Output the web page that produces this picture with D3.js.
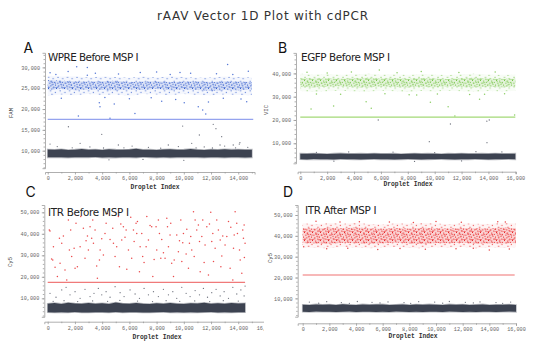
<!DOCTYPE html>
<html>
<head>
<meta charset="utf-8">
<script src="https://cdn.jsdelivr.net/npm/d3@7/dist/d3.min.js"></script>
<style>
  body { margin: 0; background: #fff; }
  .tick text { font-family: "Liberation Mono", monospace; font-size: 5.2px; fill: #666; }
  .domain, .tick line { stroke: #9a9a9a; stroke-width: 0.8; }
</style>
</head>
<body>
<svg id="chart" width="542" height="351"></svg>
<script>
// ---------- data ----------
const bins1k15 = [0,1000,2000,3000,4000,5000,6000,7000,8000,9000,10000,11000,12000,13000,14000,15000];
const bins1k16 = [0,1000,2000,3000,4000,5000,6000,7000,8000,9000,10000,11000,12000,13000,14000,15000,16000];
const bins500_15 = [0,500,1000,1500,2000,2500,3000,3500,4000,4500,5000,5500,6000,6500,7000,7500,8000,8500,9000,9500,10000,10500,11000,11500,12000,12500,13000,13500,14000,14500,15000];
const bins500_145 = [0,500,1000,1500,2000,2500,3000,3500,4000,4500,5000,5500,6000,6500,7000,7500,8000,8500,9000,9500,10000,10500,11000,11500,12000,12500,13000,13500,14000,14500];
const bins500_16 = [0,500,1000,1500,2000,2500,3000,3500,4000,4500,5000,5500,6000,6500,7000,7500,8000,8500,9000,9500,10000,10500,11000,11500,12000,12500,13000,13500,14000,14500,15000,15500,16000];

// A: WPRE, FAM
const wpreThreshold = 17500;
const wpreNegHi = [10300,10200,10350,10150,10250,10400,10200,10300,10150,10350,10250,10200,10300,10450,10200,10250,10150,10300,10350,10200,10250,10400,10250,10150,10300,10200,10350,10250,10300,10200,10250];
const wpreNegLo = [8400,8450,8400,8350,8450,8400,8400,8500,8350,8400,8350,8450,8400,8350,8500,8400,8350,8450,8350,8400,8450,8400,8400,8350,8450,8400,8350,8450,8400,8350,8400];
const wprePosHi = [28000,27800,27900,27600,27800,27700,27500,27800,27600,27900,27700,27500,27600,27800,27700,27600];
const wprePosLo = [23200,23500,23300,23600,23400,23500,23200,23600,23500,23300,23600,23400,23300,23500,23400,23300];
const wpreCoreHi = [26900,26800,26700,26600,26700,26800,26500,26600,26700,26500,26600,26700,26500,26700,26600,26500];
const wpreCoreLo = [24600,24800,24500,24700,24600,24500,24700,24600,24800,24500,24700,24600,24400,24600,24500,24700];
const wprePosDots = [[170,28700],[2130,30140],[2910,30000],[2910,28100],[8000,28900],[9720,28800],[13220,30700],[14740,29100],
  [3840,20550],[3790,21500],[4575,17770],[2250,18300],[6410,18950],[8375,21900],[10030,21500],[11385,19750],[11610,18800],
  [11060,20550],[11810,21700],[14620,21750],[4890,21200],[600,28300],[1500,29000],[3500,28600],[5200,28400],[6800,28800],
  [9000,28300],[10500,28600],[12400,28500],[1000,22600],[4200,22800],[6000,22500],[7600,22700],[9400,22300],[12900,22600],
  [14200,22400],[13600,28300]];
const wpreNegDots = [[1520,15750],[3970,13930],[9915,15920],[12160,16330],[12360,15280],[11140,13770],[12780,13360],
  [14075,11600],[170,11600],[2380,11780],[5190,11370],[8860,11370],[10580,11780],[12660,11370],[13630,11370],[14120,11920],
  [700,11000],[3100,10900],[6200,11100],[7400,10800],[9600,11000],[11500,10900],[13000,11100],[14700,10800],[4500,7800],
  [10000,7700],[7000,7900],[1800,10700],[4100,10650],[5600,10700],[8300,10600],[10900,10700],[12100,10650],[13800,10700]];

// B: EGFP, VIC
const egfpThreshold = 21200;
const egfpNegHi = [5550,5450,5600,5500,5400,5550,5650,5500,5450,5550,5500,5600,5450,5500,5550,5400,5500,5600,5450,5550,5500,5400,5550,5500,5600,5450,5500,5550,5450,5600,5500,5450,5550];
const egfpNegLo = [3150,3050,3200,3100,3150,3050,3200,3150,3100,3050,3150,3200,3100,3150,3050,3100,3200,3150,3050,3100,3150,3200,3100,3050,3150,3100,3200,3150,3050,3100,3150,3200,3100];
const egfpPosHi = [39800,39500,39700,39400,39600,39800,39500,39600,39400,39700,39500,39300,39600,39800,39500,39400,39500];
const egfpPosLo = [32400,32000,32300,32600,32200,32100,32500,32300,32000,32400,32200,32600,32300,32100,32400,32200,32500];
const egfpCoreHi = [38000,37800,37900,37700,37900,38100,37800,37900,37700,38000,37800,37600,37900,38100,37800,37700,37800];
const egfpCoreLo = [34200,34000,34300,34500,34100,34000,34400,34200,34000,34300,34100,34500,34200,34000,34300,34100,34400];
const egfpPosDots = [[800,24700],[2480,26000],[5280,25000],[4900,27850],[9680,27600],[8660,30700],[11000,25700],[11500,21700],
  [13340,28900],[15950,22150],[5880,41460],[13710,31000],[500,40500],[2000,40200],[3800,40600],[7200,40300],[9000,40800],
  [11800,40400],[14500,40600],[1200,31200],[3000,31000],[6300,31300],[8100,30800],[10200,31200],[12600,30900],[15200,31300]];
const egfpNegDots = [[5800,20000],[11170,18280],[14060,20000],[13880,19500],[9600,10690],[13890,10260],[13070,6400],
  [1200,6100],[3600,6300],[6900,6200],[10000,6000],[15000,6300],[2500,2300],[8500,2200],[12000,2400]];

// C: ITR before, Cy5
const itrBeforeThreshold = 17400;
const itrBeforeNegHi = [7500,7800,7400,7900,7600,7500,7800,7500,7700,7400,8000,7600,7500,7800,7500,7300,7700,7500,7800,7500,7400,7700,7600,7900,7500,7700,7500,7800,7600,7700];
const itrBeforeNegLo = [3500,3400,3550,3450,3600,3450,3400,3550,3500,3450,3600,3400,3500,3550,3450,3400,3500,3600,3450,3550,3400,3500,3450,3550,3600,3450,3500,3400,3550,3500];
const itrBeforePosDots = [[120,41800],[170,41300],[290,28300],[370,27800],[540,24400],[860,37900],[1030,35600],[1150,39000],
  [1590,32500],[1690,41800],[1940,33300],[2010,24000],[2180,24700],[2380,34000],[2430,48000],[2820,36800],[2920,39000],
  [3110,43300],[3310,46400],[3480,41800],[3600,25000],[3800,27800],[3850,32500],[3970,37700],[4290,44900],[4390,49500],
  [4580,37400],[4830,35600],[5190,48000],[5270,24700],[5370,44600],[5560,43300],[5680,38400],[5810,23500],[5930,32500],
  [6100,47700],[6300,41800],[6490,44900],[6590,45700],[6790,34000],[6980,29400],[7080,26600],[7280,48000],[7520,43900],
  [7640,43300],[7820,28100],[8010,32500],[8210,40200],[8380,37400],[8500,31200],[8620,28600],[8750,47200],[8800,43300],
  [8990,39500],[9110,26300],[9290,27800],[9480,39500],[9680,36800],[9780,46400],[9920,35900],[10170,30600],[10220,42100],
  [10410,35600],[10580,32500],[10710,50300],[10830,46400],[10950,41800],[11150,36400],[11320,38700],[11490,26600],
  [11690,43300],[11880,44600],[11980,50000],[12130,40200],[12300,33300],[12420,46400],[12670,37100],[12860,39000],
  [13030,34800],[13280,45700],[13450,43000],[13650,33300],[13770,50300],[13940,40200],[14140,27800],[14330,41800],
  [14430,44100],[14500,35600],[420,34000],[710,20100],[1270,23200],[1400,18500],[1760,29400],[2620,42600],[2990,32500],
  [3360,35600],[3650,19300],[4090,30200],[4780,42600],[4950,29400],[5440,37100],[6170,28600],[6540,40200],[6740,22400],
  [7400,37100],[7720,20100],[8130,46400],[8870,34000],[9240,20100],[9600,31700],[9970,40200],[10340,24000],[10760,29400],
  [11070,44100],[11200,22400],[11560,34800],[11810,20900],[12180,27100],[12540,41800],[12720,24700],[13160,38700],
  [13400,24000],[13600,18500],[13890,44900],[14090,32500],[14260,21600],[14450,29000],[910,26300],[1520,46400],[2080,44900],
  [2740,28600],[3230,37900],[4210,40200],[5070,34000],[5760,41800],[6350,36400],[6910,40200],[7230,34000],[7960,43300],
  [8310,28600],[9040,44900],[9850,27100],[10510,38700],[11390,46400],[12050,36400],[12790,29700],[13700,39500],[14380,37900]];
const itrBeforeNegDots = [[170,12300],[610,10500],[1030,13900],[1350,15100],[1640,11600],[2010,13100],[2380,10000],
  [2740,14200],[3110,10800],[3400,12300],[3720,14600],[3970,11600],[4290,13100],[4580,10500],[4950,15400],[5320,12600],
  [5610,10800],[6050,13900],[6420,12000],[6740,10000],[7080,14600],[7400,11600],[7770,13100],[8130,10800],[8500,14200],
  [8870,11600],[9190,13100],[9480,10000],[9850,15100],[10170,12300],[10460,10800],[10830,13600],[11150,11600],[11440,14600],
  [11740,10500],[12050,12600],[12370,14200],[12670,11100],[12960,13100],[13280,10000],[13600,15100],[13890,12000],
  [14190,13900],[14430,11100],[14500,15700],[400,8600],[1200,8900],[2200,8500],[3300,8800],[4400,8600],[5300,9000],
  [6600,8700],[7700,8500],[8700,8900],[9700,8600],[10800,8800],[11900,8500],[12900,8900],[14000,8700]];

// D: ITR after, Cy5
const itrAfterThreshold = 21200;
const itrAfterNegHi = [6900,6800,7100,6900,7000,6800,7200,6900,6800,7100,6900,7000,7100,6800,6950,7100,6800,7000,6900,7100,6950,6800,7100,6900,7000,6800,6950,7100,6850,6950,6900,7050,6850];
const itrAfterNegLo = [3600,3500,3650,3550,3600,3450,3550,3650,3500,3600,3550,3450,3600,3500,3650,3550,3500,3600,3450,3550,3600,3500,3650,3550,3500,3600,3450,3550,3600,3500,3550,3650,3550];
const itrAfterPosHi = [46000,45600,46200,45800,46300,45700,45500,46000,45800,46200,45900,45600,46100,45800,45700,46300,45900];
const itrAfterPosLo = [34500,34200,34000,34600,34300,34100,34400,34700,34200,34000,34500,34300,34600,34100,34400,34200,34500];
const itrAfterCoreHi = [43800,43500,43900,43600,44000,43700,43400,43800,43500,43900,43600,43500,43800,43700,43500,44000,43700];
const itrAfterCoreLo = [36600,36300,36200,36700,36400,36200,36500,36800,36300,36100,36600,36400,36700,36200,36500,36300,36600];
const itrAfterPosDots = [[75,34800],[3380,34000],[5630,33500],[14000,33200],[4250,46800],[14630,46800],[1000,47000],
  [2800,46600],[6500,46700],[8300,46400],[10000,46900],[11900,46500],[15200,46600],[1800,33800],[7300,33900],[9200,33600],
  [11500,33800],[12800,34000],[15500,33700]];
const itrAfterNegDots = [[500,8200],[1800,8400],[2900,8000],[4100,8500],[5200,8100],[6400,8300],[7600,8000],[8700,8400],
  [9900,8200],[11000,8500],[12200,8100],[13300,8300],[14500,8000],[15600,8200],[1200,7700],[3500,7600],[5800,7800],
  [8100,7600],[10500,7700],[12800,7800],[15000,7600]];

// tick labels
const xTicks14 = [0,2000,4000,6000,8000,10000,12000,14000];
const xTicks16 = [0,2000,4000,6000,8000,10000,12000,14000,16000];
const yTicksA = [10000,15000,20000,25000,30000];
const yTicksB = [10000,20000,30000,40000];
const yTicksCD = [10000,20000,30000,40000,50000];

// ---------- drawing ----------
const svg = d3.select("#chart");
const defs = svg.append("defs");
const negColor = "#3d4351";

// speckle fills for the droplet bands
function speckle(id, color, size, dots) {
  const p = defs.append("pattern")
    .attr("id", id)
    .attr("patternUnits", "userSpaceOnUse")
    .attr("width", size).attr("height", size);
  dots.forEach(d => p.append("rect")
    .attr("x", d[0]).attr("y", d[1])
    .attr("width", 1).attr("height", 1)
    .attr("fill", color));
}
const coreDots = [[0,0],[3.2,0.6],[5.8,1.9],[1.4,2.7],[4.5,3.8],[7,4.6],[2.3,5.4],[5.3,6.6],[0.4,7],[6.6,7.4],[3.6,1.9]];
const outerDots = [[0.5,0.8],[5.2,2.1],[2.6,4.9],[7.4,6.5],[4.1,8.3]];
[["blue", "#3a62cf"], ["green", "#78c64a"], ["red", "#e8292b"]].forEach(([k, c]) => {
  speckle("core-" + k, c, 8, coreDots);
  speckle("outer-" + k, c, 9.5, outerDots);
});

// title
svg.append("text")
  .attr("x", 157).attr("y", 19.5)
  .attr("font-family", "DejaVu Sans, sans-serif")
  .attr("font-size", "12px")
  .attr("textLength", 211).attr("lengthAdjust", "spacing")
  .attr("fill", "#333")
  .text("rAAV Vector 1D Plot with cdPCR");

function drawPanel(p) {
  const g = svg.append("g");
  if (p.clipRight) {
    defs.append("clipPath").attr("id", "clip-" + p.letter)
      .append("rect").attr("x", 0).attr("y", 0).attr("width", p.clipRight).attr("height", 351);
    g.attr("clip-path", `url(#clip-${p.letter})`);
  }

  const x = d3.scaleLinear().domain(p.xDomain).range(p.xRange);
  const y = d3.scaleLinear().domain(p.yDomain).range(p.yRange);

  // positive band (outer + core)
  if (p.posHi) {
    const outer = d3.area().x((d, i) => x(p.posBins[i])).y0((d, i) => y(p.posLo[i])).y1(d => y(d));
    const core = d3.area().x((d, i) => x(p.posBins[i])).y0((d, i) => y(p.coreLo[i])).y1(d => y(d));
    g.append("path").datum(p.posHi).attr("d", outer).attr("fill", p.color).attr("opacity", 0.05);
    g.append("path").datum(p.posHi).attr("d", outer).attr("fill", `url(#outer-${p.tone})`);
    g.append("path").datum(p.coreHi).attr("d", core).attr("fill", p.color).attr("opacity", 0.17);
    g.append("path").datum(p.coreHi).attr("d", core).attr("fill", `url(#core-${p.tone})`);
  }

  // negative cluster
  const neg = d3.area().x((d, i) => x(p.negBins[i])).y0((d, i) => y(p.negLo[i])).y1(d => y(d));
  g.append("path").datum(p.negHi).attr("d", neg)
    .attr("fill", negColor)
    .attr("stroke", negColor).attr("stroke-opacity", 0.35).attr("stroke-width", 1.6);

  g.selectAll(".nd").data(p.negDots).join("circle")
    .attr("cx", d => x(d[0])).attr("cy", d => y(d[1])).attr("r", 0.65)
    .attr("fill", negColor).attr("opacity", 0.75);
  g.selectAll(".pd").data(p.posDots).join("circle")
    .attr("cx", d => x(d[0])).attr("cy", d => y(d[1])).attr("r", 0.75)
    .attr("fill", p.color).attr("opacity", 0.85);

  // threshold
  g.append("line")
    .attr("x1", x(0)).attr("x2", x(p.dataEnd))
    .attr("y1", y(p.threshold)).attr("y2", y(p.threshold))
    .attr("stroke", p.thrColor).attr("stroke-width", 1.3);

  // axes with minor ticks
  g.append("g").attr("transform", `translate(0,${p.xAxisY})`)
    .call(d3.axisBottom(x).tickValues(p.xTicks).tickSize(2.5).tickPadding(2).tickFormat(d3.format(",")));
  g.append("g").attr("transform", `translate(0,${p.xAxisY})`)
    .call(d3.axisBottom(x).tickValues(d3.range(1000, p.xDomain[1], 2000)).tickSize(1.5).tickFormat(""))
    .select(".domain").remove();
  g.append("g").attr("transform", `translate(${p.yAxisX},0)`)
    .call(d3.axisLeft(y).tickValues(p.yTicks).tickSize(2.5).tickPadding(2.5).tickFormat(d3.format(",")));
  g.append("g").attr("transform", `translate(${p.yAxisX},0)`)
    .call(d3.axisLeft(y).tickValues(d3.range(p.yMinorStart, p.yDomain[1], p.yMinor)).tickSize(1.5).tickFormat(""))
    .select(".domain").remove();

  // axis titles
  g.append("text")
    .attr("x", p.xLabel[0]).attr("y", p.xLabel[1])
    .attr("text-anchor", "middle")
    .attr("font-family", "Liberation Mono, monospace")
    .attr("font-weight", "bold")
    .attr("font-size", "6.3px")
    .attr("fill", "#333")
    .text("Droplet Index");
  svg.append("text")
    .attr("transform", `translate(${p.yLabel[0]},${p.yLabel[1]}) rotate(-90)`)
    .attr("text-anchor", "middle")
    .attr("font-family", "Liberation Mono, monospace")
    .attr("font-size", "5.6px")
    .attr("fill", "#444")
    .text(p.channel);

  // panel title and letter
  svg.append("text")
    .attr("x", p.titlePos[0]).attr("y", p.titlePos[1])
    .attr("font-family", "DejaVu Sans, sans-serif")
    .attr("font-size", "10.4px")
    .attr("textLength", p.titleWidth).attr("lengthAdjust", "spacing")
    .attr("fill", "#222")
    .text(p.title);
  svg.append("text")
    .attr("x", p.letterPos[0]).attr("y", p.letterPos[1])
    .attr("font-family", "Inter, sans-serif")
    .attr("font-size", "14px")
    .attr("fill", "#111")
    .text(p.letter);
}

drawPanel({
  letter: "A", title: "WPRE Before MSP I", titleWidth: 90.5, channel: "FAM", tone: "blue",
  color: "#3a62cf", thrColor: "#95a3ee",
  xDomain: [-200, 15200], xRange: [45, 254.6], yDomain: [5800, 33500], yRange: [168.2, 52.8],
  xAxisY: 172, yAxisX: 45, xTicks: xTicks14, yTicks: yTicksA, yMinor: 1000, yMinorStart: 6000,
  negBins: bins500_15, negHi: wpreNegHi, negLo: wpreNegLo,
  posBins: bins1k15, posHi: wprePosHi, posLo: wprePosLo, coreHi: wpreCoreHi, coreLo: wpreCoreLo,
  posDots: wprePosDots, negDots: wpreNegDots, threshold: wpreThreshold, dataEnd: 15100,
  xLabel: [155, 189], yLabel: [12.5, 113], titlePos: [48, 61], letterPos: [23.5, 53]
});
drawPanel({
  letter: "B", title: "EGFP Before MSP I", titleWidth: 89, channel: "VIC", tone: "green",
  color: "#78c64a", thrColor: "#a3d977",
  xDomain: [-200, 16050], xRange: [297.6, 516], yDomain: [1400, 48800], yRange: [163.3, 52.9],
  xAxisY: 171.7, yAxisX: 296, xTicks: xTicks16, yTicks: yTicksB, yMinor: 2000, yMinorStart: 2000,
  negBins: bins500_16, negHi: egfpNegHi, negLo: egfpNegLo,
  posBins: bins1k16, posHi: egfpPosHi, posLo: egfpPosLo, coreHi: egfpCoreHi, coreLo: egfpCoreLo,
  posDots: egfpPosDots, negDots: egfpNegDots, threshold: egfpThreshold, dataEnd: 16000,
  xLabel: [408, 186], yLabel: [268, 110], titlePos: [301, 61], letterPos: [278, 53]
});
drawPanel({
  letter: "C", title: "ITR Before MSP I", titleWidth: 81, channel: "Cy5", tone: "red",
  color: "#e8292b", thrColor: "#f07a7a", clipRight: 264,
  xDomain: [-250, 16000], xRange: [44.3, 265.5], yDomain: [1400, 53400], yRange: [316.8, 205],
  xAxisY: 321.7, yAxisX: 44.3, xTicks: xTicks16, yTicks: yTicksCD, yMinor: 2000, yMinorStart: 2000,
  negBins: bins500_145, negHi: itrBeforeNegHi, negLo: itrBeforeNegLo,
  posDots: itrBeforePosDots, negDots: itrBeforeNegDots, threshold: itrBeforeThreshold, dataEnd: 14500,
  xLabel: [157, 338.5], yLabel: [12, 262], titlePos: [48, 216], letterPos: [25.5, 197]
});
drawPanel({
  letter: "D", title: "ITR After MSP I", titleWidth: 71.5, channel: "Cy5", tone: "red",
  color: "#e8292b", thrColor: "#f5a0a0",
  xDomain: [-375, 16000], xRange: [297.7, 516], yDomain: [1200, 54800], yRange: [316.7, 205],
  xAxisY: 323.3, yAxisX: 297.7, xTicks: xTicks16, yTicks: yTicksCD, yMinor: 2000, yMinorStart: 2000,
  negBins: bins500_16, negHi: itrAfterNegHi, negLo: itrAfterNegLo,
  posBins: bins1k16, posHi: itrAfterPosHi, posLo: itrAfterPosLo, coreHi: itrAfterCoreHi, coreLo: itrAfterCoreLo,
  posDots: itrAfterPosDots, negDots: itrAfterNegDots, threshold: itrAfterThreshold, dataEnd: 15900,
  xLabel: [413, 338], yLabel: [271.5, 258], titlePos: [305, 213.5], letterPos: [283, 197]
});
</script>
</body>
</html>
